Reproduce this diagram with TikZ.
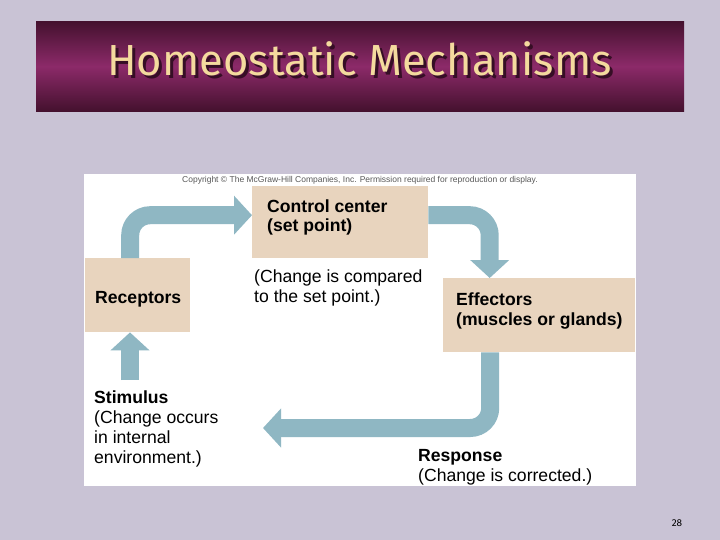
\documentclass[tikz,border=0pt]{standalone}
\usepackage{fontspec}
\setmainfont{Liberation Sans}
\newfontfamily\titlefont{Fira Sans}
\usepackage{xcolor}
\usetikzlibrary{arrows.meta, positioning}
\definecolor{slidebg}{HTML}{C9C3D5}
\definecolor{plum}{HTML}{8C2A69}
\definecolor{plumdark}{HTML}{44112E}
\definecolor{cream}{HTML}{F4DA9E}
\definecolor{tan}{HTML}{E8D4BE}
\definecolor{steel}{HTML}{8FB7C3}
\tikzstyle{box} = [rectangle, fill=tan, inner sep=0pt, anchor=north west]
\tikzstyle{lbl} = [inner sep=0pt, anchor=base west, align=left,
                   font=\fontsize{17.6}{20}\selectfont]
\tikzstyle{lblb} = [lbl, font=\fontsize{17.6}{20}\selectfont\bfseries]
\tikzstyle{flow} = [draw=steel, line width=18pt, rounded corners=20pt,
                    -{Triangle[width=38pt 0 0, length=18pt 0 0]}]

\begin{document}
\begin{tikzpicture}[x=1pt, y=-1pt]
    \fill[slidebg] (0,0) rectangle (720,540);

    % Title banner
    \node[anchor=north west, minimum width=648pt, minimum height=90pt, inner sep=0pt,
          top color=plumdark, bottom color=plumdark, middle color=plum] (banner) at (36,21) {};
    \node[text=plumdark!80!black, font=\titlefont\fontsize{43.5}{44}\selectfont] (titleshadow) at (362.5,62) {Homeostatic Mechanisms};
    \node[text=cream, font=\titlefont\fontsize{43.5}{44}\selectfont] (title) at (359.5,59) {Homeostatic Mechanisms};

    % Figure panel
    \fill[white] (84,174) rectangle (636,486);
    \node[text=black!65, font=\fontsize{8.5}{9}\selectfont] (copy) at (360,180)
        {Copyright \textcopyright{} The McGraw-Hill Companies, Inc. Permission required for reproduction or display.};

    % Boxes
    \node[box, minimum width=176pt, minimum height=72pt] (ctrl) at (252,186) {};
    \node[box, minimum width=105pt, minimum height=74pt] (rec) at (85,258) {};
    \node[box, minimum width=192pt, minimum height=74pt] (eff) at (443,278) {};

    % Labels (base = last line)
    \node[lblb] (ctrltxt) at (267,232) {Control center\\(set point)};
    \node[lbl] (cmp) at (254,302) {(Change is compared\\to the set point.)};
    \node[lblb] (rectxt) at (95,303) {Receptors};
    \node[lblb] (efftxt) at (456,325) {Effectors\\(muscles or glands)};
    \node[lbl] (stim) at (94,463) {\textbf{Stimulus}\\(Change occurs\\in internal\\environment.)};
    \node[lbl] (resp) at (418,481) {\textbf{Response}\\(Change is corrected.)};

    % Loop arrows
    \coordinate (back) at (263,428);
    \coordinate (sense) at (130,380);
    \draw[flow] ([xshift=-7.5pt]rec.north) |- ([yshift=7pt]ctrl.west);
    \draw[flow] ([yshift=7pt]ctrl.east) -| ([xshift=-49.5pt]eff.north);
    \draw[flow] ([xshift=-49pt]eff.south) |- (back);
    \draw[flow] (sense) -- (sense |- rec.south);

    \node[font=\titlefont\fontsize{10}{10}\selectfont] (page) at (677,523) {28};
\end{tikzpicture}
\end{document}
